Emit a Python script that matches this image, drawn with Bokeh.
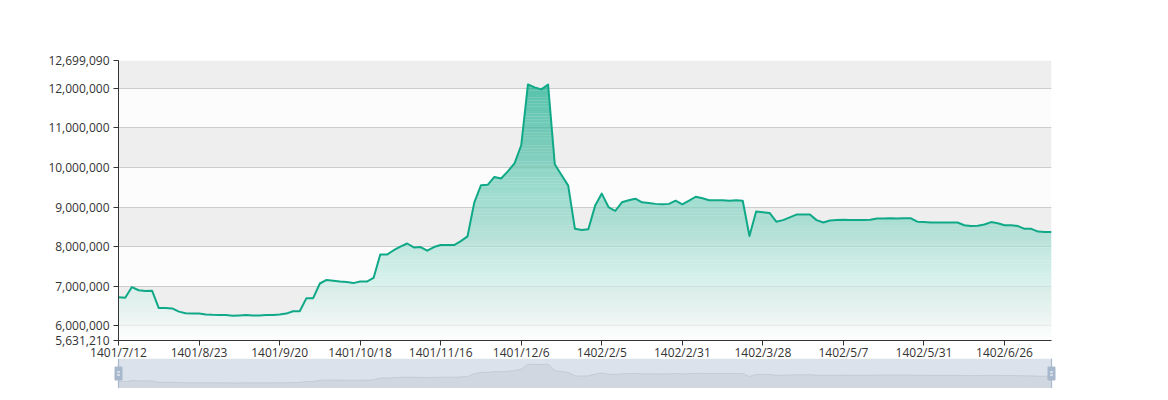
import numpy as np
from bokeh.plotting import figure
from bokeh.models import Range1d, FixedTicker, NumeralTickFormatter, ColumnDataSource
from bokeh.embed import file_html
from bokeh.resources import INLINE

# ---------------- data ----------------
values_m = [
    6.72, 6.71, 6.98, 6.90, 6.88, 6.89, 6.45, 6.45, 6.44, 6.36,
    6.32, 6.31, 6.31, 6.29, 6.28, 6.275, 6.275, 6.2569, 6.265, 6.275,
    6.26, 6.265, 6.275, 6.275, 6.29, 6.31, 6.37, 6.37, 6.70, 6.70,
    7.07, 7.16, 7.14, 7.12, 7.11, 7.08, 7.12, 7.12, 7.21, 7.80,
    7.80, 7.91, 8.00, 8.08, 7.98, 7.99, 7.90, 7.99, 8.04, 8.04,
    8.04, 8.14, 8.26, 9.11, 9.55, 9.56, 9.76, 9.72, 9.90, 10.10,
    10.56, 12.094371, 12.02, 11.97, 12.09, 10.08, 9.81, 9.54, 8.45, 8.42,
    8.44, 9.03, 9.34, 9.00, 8.90, 9.12, 9.17, 9.21, 9.12, 9.10,
    9.08, 9.07, 9.08, 9.16, 9.07, 9.16, 9.26, 9.22, 9.17, 9.17,
    9.17, 9.16, 9.17, 9.16, 8.27, 8.89, 8.87, 8.85, 8.63, 8.67,
    8.74, 8.81, 8.81, 8.81, 8.67, 8.61, 8.66, 8.67, 8.68, 8.67,
    8.67, 8.67, 8.68, 8.71, 8.71, 8.72, 8.71, 8.72, 8.72, 8.63,
    8.62, 8.61, 8.61, 8.61, 8.61, 8.61, 8.54, 8.52, 8.53, 8.56,
    8.62, 8.59, 8.54, 8.54, 8.52, 8.45, 8.45, 8.38, 8.37, 8.37,
]
values = [round(v * 1_000_000) for v in values_m]

date_labels = ["1401/7/12", "1401/8/23", "1401/9/20", "1401/10/18", "1401/11/16",
               "1401/12/6", "1402/2/5", "1402/2/31", "1402/3/28", "1402/5/7",
               "1402/5/31", "1402/6/26"]
label_step = 12
y_major = [6_000_000, 7_000_000, 8_000_000, 9_000_000, 10_000_000, 11_000_000, 12_000_000]

# ---------------- derived ----------------
n = len(values)
idx = np.arange(n, dtype=float)
v = np.array(values, dtype=float)
ymin = v.min() * 0.9
ymax = v.max() * 1.05
tick_pos = [i * label_step for i in range(len(date_labels))]

TEAL = (16, 169, 136)
TEAL_HEX = "#%02x%02x%02x" % TEAL
FONT = "Open Sans"

main = figure(frame_width=933, frame_height=280,
              min_border_left=118, min_border_right=109, min_border_top=60, min_border_bottom=0,
              x_range=Range1d(0, n - 1), y_range=Range1d(ymin, ymax),
              output_backend="svg", toolbar_location=None)
main.outline_line_color = None
main.background_fill_color = "white"
main.border_fill_color = "white"

# split areas
edges = [ymin] + y_major + [ymax]
band_cols = ["#fcfcfc" if k % 2 == 0 else "#eeeeee" for k in range(len(edges) - 1)]
main.quad(left=0, right=n - 1, bottom=edges[:-1], top=edges[1:], fill_color=band_cols,
          line_color=None, level="image")

# gradient area (stacked horizontal bands, white -> teal)
nb = 80
levels = np.linspace(ymin, v.max(), nb + 1)
xs_list, ys_list, cols = [], [], []
for k in range(nb):
    lo, hi = levels[k], levels[k + 1]
    pts = list(idx)
    for c in (lo, hi):
        d = v - c
        cr = np.where(d[:-1] * d[1:] < 0)[0]
        pts += list(cr + (c - v[cr]) / (v[cr + 1] - v[cr]))
    px = np.unique(np.array(pts))
    py = np.clip(np.interp(px, idx, v), lo, hi)
    xs_list.append(np.concatenate([px, px[::-1]]))
    ys_list.append(np.concatenate([py, np.full(len(px), lo)]))
    t = (0.5 * (lo + hi) - ymin) / (v.max() - ymin)
    rgb = [round(255 + t * (ch - 255)) for ch in TEAL]
    cols.append("#%02x%02x%02x" % tuple(rgb))
src = ColumnDataSource(dict(xs=xs_list, ys=ys_list, c=cols))
main.patches("xs", "ys", source=src, fill_color="c", fill_alpha=0.7, line_color=None)

main.line(idx, v, line_color=TEAL_HEX, line_width=2, line_join="round")

# axes
main.xgrid.visible = False
main.ygrid.grid_line_color = "#cccccc"
main.ygrid.ticker = FixedTicker(ticks=[ymin] + y_major + [ymax])
main.yaxis.ticker = FixedTicker(ticks=[ymin] + y_major + [ymax])
main.yaxis.formatter = NumeralTickFormatter(format="0,0")
main.xaxis.ticker = FixedTicker(ticks=tick_pos)
main.xaxis.major_label_overrides = {p: lab for p, lab in zip(tick_pos, date_labels)}
for ax in (main.xaxis[0], main.yaxis[0]):
    ax.axis_line_color = "#333333"
    ax.major_tick_line_color = "#333333"
    ax.major_tick_out = 5
    ax.major_tick_in = 0
    ax.minor_tick_line_color = None
    ax.major_label_text_font = FONT
    ax.major_label_text_font_size = "12px"
    ax.major_label_text_color = "#333333"
main.xaxis.major_label_standoff = -2
main.yaxis.major_label_standoff = 4

# ---------------- slider (data zoom) ----------------
pad = (n - 1) * 8 / 933
s_range = v.max() - v.min()
s_lo, s_hi = v.min() - 0.3 * s_range, v.max() + 0.3 * s_range
slider = figure(frame_width=949, frame_height=30,
                min_border_left=110, min_border_right=101, min_border_top=0, min_border_bottom=0,
                x_range=Range1d(-pad, n - 1 + pad), y_range=Range1d(s_lo, s_hi),
                x_axis_location=None, y_axis_location=None,
                output_backend="svg", toolbar_location=None)
slider.margin = (-5, 0, 0, 0)
slider.outline_line_color = None
slider.grid.visible = False
slider.background_fill_alpha = 0
slider.border_fill_alpha = 0
slider.quad(left=0, right=n - 1, bottom=s_lo, top=s_hi, fill_color="#dce2eb", line_color=None)
slider.varea(x=idx, y1=s_lo, y2=v, fill_color="#2f4554", fill_alpha=0.065)
slider.line(idx, v, line_color="#2f4554", line_alpha=0.15, line_width=0.7)
ends = [0, n - 1]
slider.segment(x0=ends, y0=s_lo, x1=ends, y1=s_hi, line_color="#a7b7cc", line_width=1.2)
mid = 0.5 * (s_lo + s_hi)
px_unit = (s_hi - s_lo) / 30
slider.rect(x=ends, y=mid, width=7, height=13, width_units="screen", height_units="screen",
            fill_color="#a7b7cc", line_color="#a7b7cc")
slider.rect(x=ends, y=[mid + 1.5 * px_unit] * 2, width=3, height=1,
            width_units="screen", height_units="screen", fill_color="white", line_color=None)
slider.rect(x=ends, y=[mid - 1.5 * px_unit] * 2, width=3, height=1,
            width_units="screen", height_units="screen", fill_color="white", line_color=None)

# two separate roots: avoids frame-border syncing of a column layout
open("out.html", "w").write(file_html([main, slider], INLINE))
